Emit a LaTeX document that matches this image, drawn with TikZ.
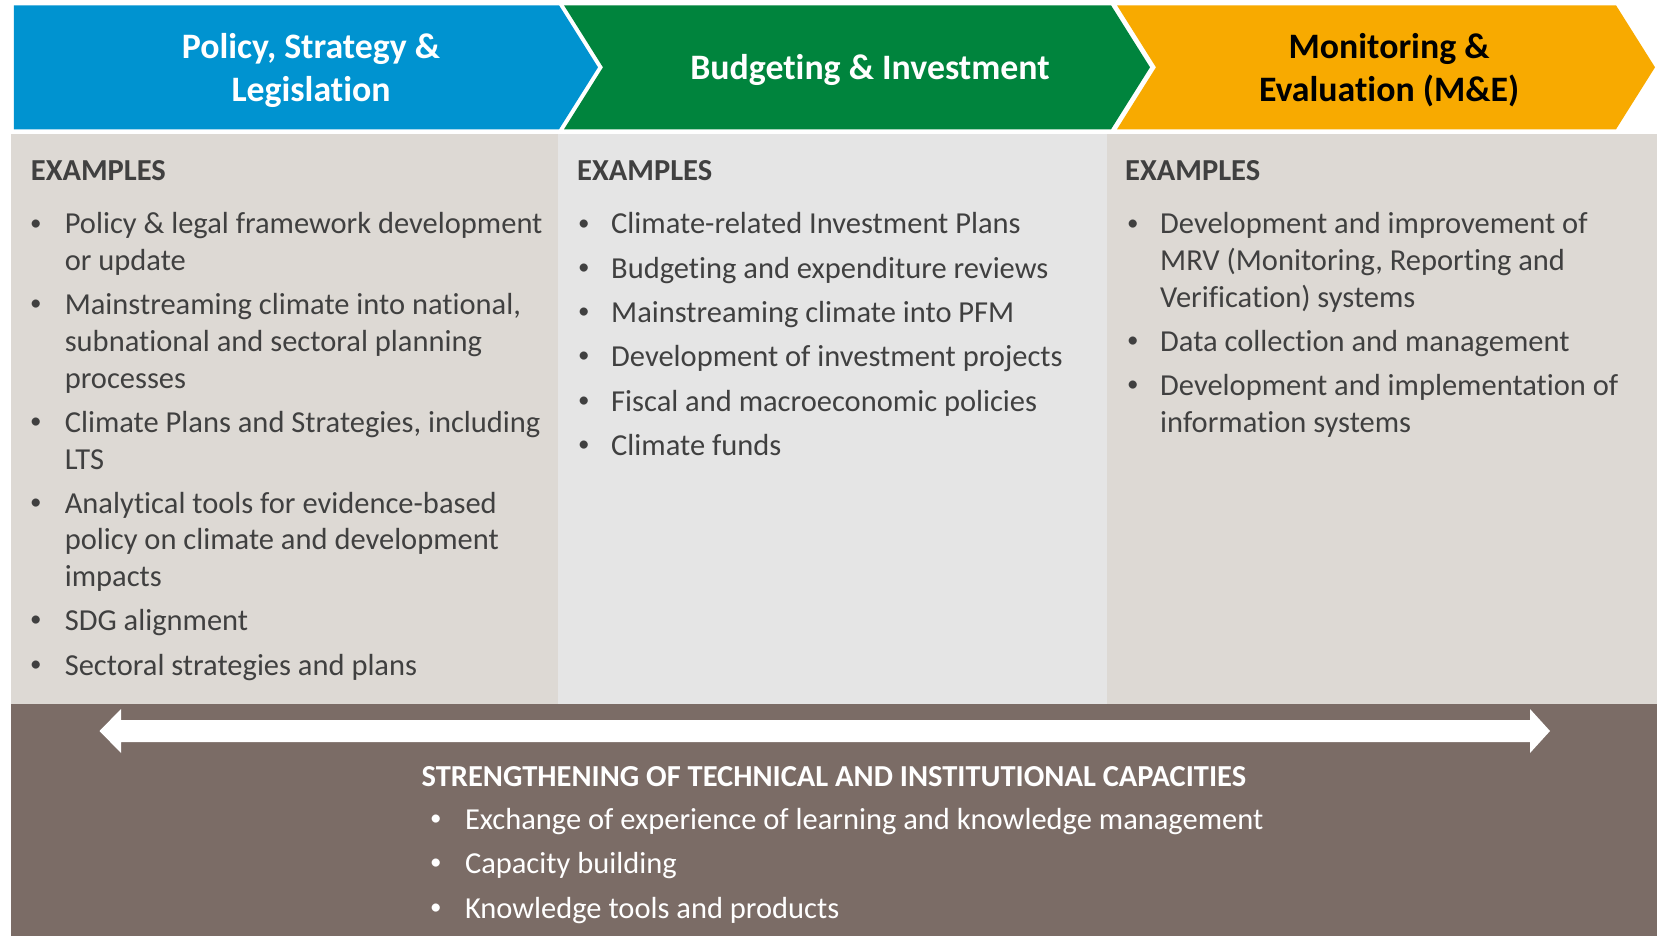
\documentclass[tikz,border=0pt]{standalone}
\usepackage{fontspec}
\setmainfont{Carlito}[Ligatures=NoCommon]
\definecolor{pblue}{HTML}{0093D0}
\definecolor{pgreen}{HTML}{00843D}
\definecolor{porange}{HTML}{F8AA00}
\definecolor{colA}{HTML}{DDD9D4}
\definecolor{colB}{HTML}{E5E5E5}
\definecolor{brownbar}{HTML}{7B6C66}
\definecolor{txt}{HTML}{404040}
\newcommand\txtline[4]{\node[itm] (#1) at (#2,#3) {#4};}
\newcommand\bulletat[4][txt]{\node[bul, text=#1] (#2) at (#3,#4-4) {•};}
\begin{document}
\begin{tikzpicture}[x=1pt,y=-1pt,
  hdr/.style={font=\fontsize{35.8}{43.7}\selectfont\bfseries, anchor=base, inner sep=0},
  exhead/.style={font=\fontsize{30.5}{37}\selectfont\bfseries, text=txt, anchor=base west, inner sep=0},
  itm/.style={font=\fontsize{30.5}{37}\selectfont, text=txt, anchor=base west, inner sep=0},
  bul/.style={font=\fontsize{23}{27}\selectfont, anchor=base west, inner sep=0}
]
\useasboundingbox (0,0) rectangle (1660,936);
\fill[white] (0,0) rectangle (1660,936);

% chevrons
\fill[pblue] (13.8,5.3) -- (559,5.3) -- (598,67.3) -- (559,129.3) -- (13.8,129.3) -- cycle;
\fill[pgreen] (564,5.3) -- (1111,5.3) -- (1150,67.3) -- (1111,129.3) -- (564,129.3) -- (603,67.3) -- cycle;
\fill[porange] (1117,5.3) -- (1616,5.3) -- (1655,67.3) -- (1616,129.3) -- (1117,129.3) -- (1156,67.3) -- cycle;

\node[hdr, text=white] (h1a) at (311,59) {Policy, Strategy \&};
\node[hdr, text=white] (h1b) at (311,102) {Legislation};
\node[hdr, text=white] (h2) at (870,79.5) {Budgeting \& Investment};
\node[hdr, text=black] (h3a) at (1389,59) {Monitoring \&};
\node[hdr, text=black] (h3b) at (1389,102) {Evaluation (M\&E)};

% columns
\fill[colA] (10.6,134.5) rectangle (558,704);
\fill[colB] (558,134.5) rectangle (1107,704);
\fill[colA] (1107,134.5) rectangle (1657,704);
\fill[brownbar] (10.6,704) rectangle (1657,936);

% column 1
\node[exhead] (ex1) at (30.7,181) {EXAMPLES};
\bulletat{b11}{30}{234}
\txtline{t11a}{64.6}{234}{Policy \& legal framework development}
\txtline{t11b}{64.6}{270.6}{or update}
\bulletat{b12}{30}{314.9}
\txtline{t12a}{64.6}{314.9}{Mainstreaming climate into national,}
\txtline{t12b}{64.6}{351.5}{subnational and sectoral planning}
\txtline{t12c}{64.6}{388.1}{processes}
\bulletat{b13}{30}{432.4}
\txtline{t13a}{64.6}{432.4}{Climate Plans and Strategies, including}
\txtline{t13b}{64.6}{469}{LTS}
\bulletat{b14}{30}{513.3}
\txtline{t14a}{64.6}{513.3}{Analytical tools for evidence-based}
\txtline{t14b}{64.6}{549.9}{policy on climate and development}
\txtline{t14c}{64.6}{586.5}{impacts}
\bulletat{b15}{30}{630.8}
\txtline{t15a}{64.6}{630.8}{SDG alignment}
\bulletat{b16}{30}{675.1}
\txtline{t16a}{64.6}{675.1}{Sectoral strategies and plans}

% column 2
\node[exhead] (ex2) at (577,181) {EXAMPLES};
\bulletat{b21}{578}{234}
\txtline{t21}{611}{234}{Climate-related Investment Plans}
\bulletat{b22}{578}{278.3}
\txtline{t22}{611}{278.3}{Budgeting and expenditure reviews}
\bulletat{b23}{578}{322.6}
\txtline{t23}{611}{322.6}{Mainstreaming climate into PFM}
\bulletat{b24}{578}{366.9}
\txtline{t24}{611}{366.9}{Development of investment projects}
\bulletat{b25}{578}{411.2}
\txtline{t25}{611}{411.2}{Fiscal and macroeconomic policies}
\bulletat{b26}{578}{455.5}
\txtline{t26}{611}{455.5}{Climate funds}

% column 3
\node[exhead] (ex3) at (1125,181) {EXAMPLES};
\bulletat{b31}{1127}{234}
\txtline{t31a}{1160}{234}{Development and improvement of}
\txtline{t31b}{1160}{270.6}{MRV (Monitoring, Reporting and}
\txtline{t31c}{1160}{307.2}{Verification) systems}
\bulletat{b32}{1127}{351.5}
\txtline{t32}{1160}{351.5}{Data collection and management}
\bulletat{b33}{1127}{395.8}
\txtline{t33a}{1160}{395.8}{Development and implementation of}
\txtline{t33b}{1160}{432.4}{information systems}

% double arrow
\coordinate (arrL) at (99.5,731);
\coordinate (arrR) at (1550,731);
\fill[white] (arrL) -- (121,709) -- (121,720) -- (1530,720) -- (1530,709) -- (arrR)
  -- (1530,753) -- (1530,742) -- (121,742) -- (121,753) -- cycle;

% bottom
\node[exhead, text=white] (bt) at (421.4,786.5) {STRENGTHENING OF TECHNICAL AND INSTITUTIONAL CAPACITIES};
\bulletat[white]{bb1}{430}{829.5}
\node[itm, text=white] (bl1) at (464.8,829.5) {Exchange of experience of learning and knowledge management};
\bulletat[white]{bb2}{430}{873.8}
\node[itm, text=white] (bl2) at (464.8,873.8) {Capacity building};
\bulletat[white]{bb3}{430}{918.1}
\node[itm, text=white] (bl3) at (464.8,918.1) {Knowledge tools and products};
\end{tikzpicture}
\end{document}
